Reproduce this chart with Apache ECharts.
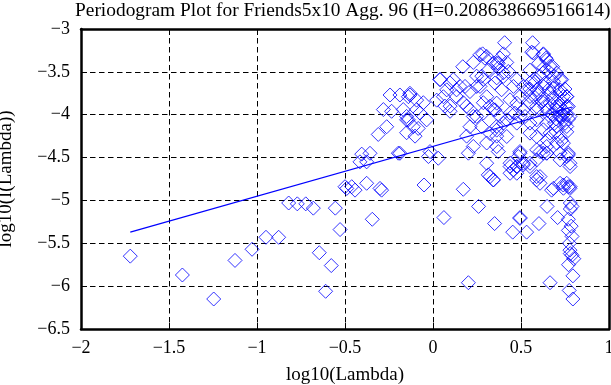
<!DOCTYPE html>
<html>
<head>
<meta charset="utf-8">
<script src="https://cdn.jsdelivr.net/npm/echarts@6/dist/echarts.min.js"></script>
<style>html,body{margin:0;padding:0;background:#fff}#c{width:611px;height:385px}</style>
</head>
<body>
<div id="c"></div>
<script>
var titleText = "Periodogram Plot for Friends5x10 Agg. 96 (H=0.208638669516614)";
var xAxisName = "log10(Lambda)";
var yAxisName = "log10(I(Lambda))";
var xTicks = [-2, -1.5, -1, -0.5, 0, 0.5, 1];
var yTicks = [-6.5, -6, -5.5, -5, -4.5, -4, -3.5, -3];

var logLambda = [
-1.72,-1.424,-1.246,-1.125,-1.028,-0.949,-0.877,-0.82,-0.771,-0.723,-0.68,-0.646,-0.61,-0.578,-0.555,-0.528,
-0.5,-0.49,-0.462,-0.443,-0.377,-0.301,-0.292,-0.345,-0.051,0.172,0.062,0.259,0.201,0.35,0.494,0.494,0.453,0.532,0.602,0.648,0.665,0.708,0.674,0.74,0.769,0.778,0.78,0.79,0.769,0.769,0.79,0.778,0.79,0.8,0.77,0.795,0.774,0.795,0.78,0.785,0.775,0.78,
-0.405,-0.358,-0.377,-0.415,
-0.244,-0.188,-0.282,-0.235,-0.15,-0.263,-0.311,-0.188,-0.14,-0.15,
-0.131,-0.055,-0.093,-0.14,-0.084,-0.102,-0.036,0.021,0.068,0.097,0.134,0.172,
0.267,0.305,0.362,0.04,0.097,0.134,0.182,-0.131,-0.093,-0.169,-0.074,-0.15,-0.112,0.059,0.097,0.191,0.229,0.286,0.324,0.305,0.267,0.248,
0.407,0.566,0.282,0.4,0.561,0.627,0.642,0.68,0.169,0.229,0.295,0.371,0.419,0.551,0.627,0.684,0.722,0.314,0.277,0.362,0.4,0.04,0.115,0.153,0.078,0.21,0.248,0.286,0.476,0.513,0.551,0.589,0.627,0.665,0.722,0.76,
0.21,0.248,0.286,0.343,0.381,0.419,0.21,0.277,0.324,0.362,0.191,0.229,0.305,0.362,
0.476,0.513,0.551,0.589,0.627,0.665,0.703,0.741,0.76,0.722,0.741,0.76,0.778,0.703,0.646,0.589,0.551,0.494,0.438,0.476,0.551,0.589,0.627,0.665,0.722,0.741,0.769,0.722,0.646,0.627,0.589,
0.438,0.476,0.494,0.513,0.551,0.589,0.476,0.438,0.314,0.343,0.305,0.201,-0.017,-0.026,0.03,-0.197,0.324,0.589,0.608,0.722,0.741,0.769,0.778,0.722,0.646,
0.381,0.57,0.627,0.646,0.665,0.703,0.731,0.343,0.371,0.4,0.428,0.352,0.39,0.457,0.438,0.362,0.494,0.532,0.57,0.608,0.636,0.684,0.722,0.76,0.551,0.589,0.636,0.703,0.731,0.769,0.665,0.722,0.76,0.523,0.466,0.4,0.352,
0.362,0.419,0.362,0.494,0.485,0.438,0.476,0.513,0.551,0.457,0.608,0.646,0.703,0.76,0.779,0.608,0.589,0.684,0.76,0.779,0.343,0.371,
0.65,0.68,0.7,0.72,0.74,0.75,0.76,0.7,0.73,0.68,0.66,0.62,0.6,0.58,0.71,0.74,0.77,0.75,0.69,0.65,
0.6,0.63,0.66,0.69,0.58,0.55
];
var logPeriodogram = [
-5.65,-5.87,-6.15,-5.70,-5.57,-5.43,-5.43,-5.03,-5.04,-5.04,-5.09,-5.61,-6.06,-5.76,-5.09,-5.34,
-4.84,-4.86,-4.84,-4.88,-4.80,-4.86,-4.88,-5.22,-4.82,-4.87,-5.2,-5.07,-5.96,-5.27,-5.2,-5.21,-5.37,-5.37,-5.27,-5.07,-5.96,-5.2,-4.88,-4.82,-4.84,-4.86,-5.03,-5.07,-5.22,-5.35,-5.42,-5.58,-5.64,-5.68,-5.75,-5.88,-6.05,-6.15,-5.1,-5.3,-5.5,-5.62,
-4.46,-4.45,-4.55,-4.55,
-3.77,-3.77,-3.94,-3.96,-4.02,-4.14,-4.23,-4.45,-3.79,-4.21,
-3.77,-3.86,-3.94,-4.06,-4.16,-4.25,-4.06,-3.83,-3.90,-3.96,-3.79,-3.86,
-3.30,-3.32,-3.40,-3.59,-3.63,-3.71,-3.67,-3.75,-3.83,-3.94,-3.98,-4.06,-4.14,-3.79,-3.90,-3.90,-4.02,-3.98,-3.90,-3.79,-3.67,-3.55,
-3.16,-3.16,-3.29,-3.29,-3.27,-3.29,-3.34,-3.44,-3.44,-3.39,-3.34,-3.40,-3.39,-3.48,-3.51,-3.61,-3.59,-3.48,-3.55,-3.57,-3.51,-3.59,-3.59,-3.67,-3.71,-3.73,-3.67,-3.59,-3.59,-3.67,-3.63,-3.71,-3.67,-3.75,-3.71,-3.79,
-3.94,-4.02,-3.86,-3.94,-4.02,-4.06,-4.14,-4.14,-4.22,-4.25,-4.25,-4.37,-4.33,-4.18,
-3.865,-3.943,-3.787,-3.904,-3.826,-3.865,-3.943,-3.787,-3.904,-4.021,-4.06,-4.137,-4.021,-4.137,-4.098,-4.06,-4.098,-4.021,-3.982,-4.098,-4.215,-4.254,-4.176,-4.215,-4.254,-4.332,-4.449,-4.449,-4.371,-4.449,-4.41,
-4.605,-4.605,-4.449,-4.566,-4.605,-4.527,-4.683,-4.683,-4.702,-4.761,-4.566,-4.449,-4.43,-4.488,-4.508,-4.449,-4.722,-4.722,-4.8,-4.8,-4.858,-4.469,-4.566,-4.527,-4.449,
-3.339,-3.28,-3.30,-3.36,-3.436,-3.514,-3.59,-3.397,-3.456,-3.553,-3.495,-3.631,-3.709,-3.67,-3.826,-3.865,-3.787,-3.709,-3.592,-3.553,-3.631,-3.69,-3.748,-3.787,-3.865,-3.943,-3.904,-3.904,-3.845,-3.904,-4.021,-4.021,-4.001,-4.021,-3.982,-4.099,-3.943,
-4.137,-4.254,-4.371,-4.43,-4.488,-4.566,-4.605,-4.586,-4.566,-4.644,-4.43,-4.449,-4.332,-4.488,-4.605,-4.722,-4.761,-4.859,-4.8,-4.839,-4.761,-4.43,
-3.95,-4.0,-4.05,-3.9,-3.95,-4.1,-4.2,-4.2,-4.3,-3.8,-3.7,-3.85,-3.75,-3.8,-3.85,-4.0,-4.05,-3.7,-4.1,-4.3,
-3.4,-3.45,-3.5,-3.55,-3.62,-3.7
];
var fitX = [-1.72, 0.79];
var fitY = [-5.37, -3.91];

var pts = logLambda.map(function (x, i) { return [x, logPeriodogram[i]]; });
var fit = fitX.map(function (x, i) { return [x, fitY[i]]; });

var FONT = "'Liberation Serif', 'DejaVu Serif', serif";
function fmt(v) { return String(v).replace('-', '\u2212'); }
var DASH = [5.5, 3.5];

var chart = echarts.init(document.getElementById('c'), null, {renderer: 'canvas'});
var baseAxis = {
  axisLine: {show: true, onZero: false, lineStyle: {color: '#000', width: 2.5}},
  axisTick: {show: true, inside: true, length: 6, lineStyle: {color: '#000', width: 1}},
  splitLine: {show: false},
  axisLabel: {show: false}
};
chart.setOption({
  animation: false,
  backgroundColor: '#fff',
  title: {
    text: titleText, left: 70, top: -4,
    textStyle: {fontFamily: FONT, fontSize: 19.4, fontWeight: 'normal', color: '#000'}
  },
  grid: {left: 81, right: 2, top: 29, bottom: 56, containLabel: false, outerBoundsMode: 'none'},
  xAxis: [
    {
      type: 'value', min: -2, max: 1, interval: 0.5, position: 'bottom',
      name: xAxisName, nameLocation: 'middle', nameGap: 37,
      nameTextStyle: {fontFamily: FONT, fontSize: 19, color: '#000'},
      axisLine: {show: true, onZero: false, lineStyle: {color: '#000', width: 2.5}},
      axisTick: {show: true, inside: true, length: 6, lineStyle: {color: '#000'}},
      axisLabel: {fontFamily: FONT, fontSize: 18, color: '#000', margin: 10,
        formatter: function (v) { return xTicks.indexOf(v) >= 0 ? fmt(v) : ''; }},
      splitLine: {show: true, lineStyle: {color: '#000', type: DASH, width: 1}}
    },
    Object.assign({type: 'value', min: -2, max: 1, interval: 0.5, position: 'top'}, baseAxis)
  ],
  yAxis: [
    {
      type: 'value', min: -6.5, max: -3, interval: 0.5, position: 'left',
      name: yAxisName, nameLocation: 'middle', nameGap: 65, nameRotate: 90,
      nameTextStyle: {fontFamily: FONT, fontSize: 19, color: '#000'},
      axisLine: {show: true, onZero: false, lineStyle: {color: '#000', width: 2.5}},
      axisTick: {show: true, inside: true, length: 6, lineStyle: {color: '#000'}},
      axisLabel: {fontFamily: FONT, fontSize: 18, color: '#000', margin: 11,
        padding: [4, 0, 0, 0],
        formatter: function (v) { return yTicks.indexOf(v) >= 0 ? fmt(v) : ''; }},
      splitLine: {show: true, lineStyle: {color: '#000', type: DASH, width: 1}}
    },
    Object.assign({type: 'value', min: -6.5, max: -3, interval: 0.5, position: 'right'}, baseAxis)
  ],
  series: [
    {
      type: 'scatter', data: pts, symbol: 'diamond', symbolSize: 14,
      itemStyle: {color: 'rgba(0,0,0,0)', borderColor: '#0000ff', borderWidth: 1},
      xAxisIndex: 0, yAxisIndex: 0, silent: true
    },
    {
      type: 'line', data: fit, showSymbol: false, symbol: 'none',
      lineStyle: {color: '#0000ff', width: 1.2},
      xAxisIndex: 0, yAxisIndex: 0, silent: true
    }
  ]
});
</script>
</body>
</html>
